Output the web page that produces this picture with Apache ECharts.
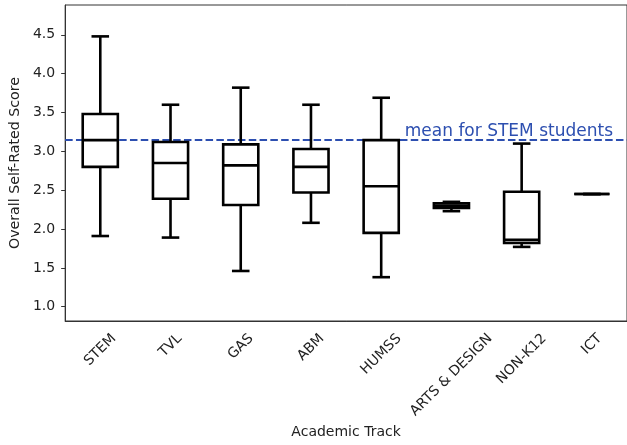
<!DOCTYPE html>
<html>
<head>
<meta charset="utf-8">
<script src="https://cdn.jsdelivr.net/npm/echarts@6/dist/echarts.min.js"></script>
<style>html,body{margin:0;padding:0;background:#fff}#main{width:627px;height:445px}</style>
</head>
<body>
<div id="main"></div>
<script>
var tracks = ['STEM', 'TVL', 'GAS', 'ABM', 'HUMSS', 'ARTS & DESIGN', 'NON-K12', 'ICT'];
var lowWhisker = [1.91, 1.89, 1.46, 2.08, 1.38, 2.23, 1.77, 2.45];
var q1 = [2.80, 2.39, 2.31, 2.47, 1.95, 2.27, 1.82, 2.45];
var median = [3.145, 2.85, 2.82, 2.80, 2.55, 2.30, 1.86, 2.45];
var q3 = [3.48, 3.12, 3.09, 3.03, 3.145, 2.33, 2.48, 2.45];
var highWhisker = [4.48, 3.60, 3.82, 3.60, 3.69, 2.35, 3.10, 2.45];
var stemMean = 3.145;
var yTicks = [1.0, 1.5, 2.0, 2.5, 3.0, 3.5, 4.0, 4.5];

var FONT = 'DejaVu Sans';
var FS = 14;

// rotated labels centred under the tick, like matplotlib
var ctx = document.createElement('canvas').getContext('2d');
ctx.font = FS + 'px "' + FONT + '"';
var rich = {};
tracks.forEach(function (t, i) {
    var w = ctx.measureText(t).width;
    var s = (6 + (w + 15) / 2.83) / 1.414;
    rich['t' + i] = {
        fontSize: FS, fontFamily: FONT, color: '#222',
        lineHeight: 2 * s, padding: [0, 2 * s, 0, 0]
    };
});

var boxData = tracks.map(function (t, i) {
    return [i, lowWhisker[i], q1[i], median[i], q3[i], highWhisker[i]];
});

function renderBox(params, api) {
    var i = api.value(0);
    var band = api.size([1, 0])[0];
    var hw = band * 0.25, cw = band * 0.125;
    var x = api.coord([i, 0])[0];
    var yLow = api.coord([i, api.value(1)])[1];
    var yQ1 = api.coord([i, api.value(2)])[1];
    var yMed = api.coord([i, api.value(3)])[1];
    var yQ3 = api.coord([i, api.value(4)])[1];
    var yHigh = api.coord([i, api.value(5)])[1];
    var st = {stroke: '#000', lineWidth: 2.6, fill: null};
    function line(x1, y1, x2, y2) {
        return {type: 'line', shape: {x1: x1, y1: y1, x2: x2, y2: y2}, style: st};
    }
    return {
        type: 'group',
        children: [
            line(x, yLow, x, yQ1),
            line(x, yQ3, x, yHigh),
            line(x - cw, yLow, x + cw, yLow),
            line(x - cw, yHigh, x + cw, yHigh),
            {type: 'rect', shape: {x: x - hw, y: yQ3, width: 2 * hw, height: yQ1 - yQ3}, style: st},
            line(x - hw, yMed, x + hw, yMed)
        ]
    };
}

var myChart = echarts.init(document.getElementById('main'));
var option = {
    animation: false,
    grid: {
        left: 62, top: 5, width: 568, height: 316,
        show: true, borderColor: '#333', borderWidth: 1
    },
    xAxis: {
        type: 'category',
        data: tracks,
        name: 'Academic Track',
        nameLocation: 'middle',
        nameGap: 103,
        nameTextStyle: {fontSize: 14, fontFamily: FONT, color: '#222'},
        axisLine: {lineStyle: {color: '#333', width: 1}},
        axisTick: {alignWithLabel: true, length: 4, lineStyle: {color: '#333'}},
        axisLabel: {
            interval: 0,
            rotate: 45,
            margin: 4,
            align: 'center',
            verticalAlign: 'top',
            fontSize: FS,
            fontFamily: FONT,
            color: '#222',
            rich: rich,
            formatter: function (value, index) {
                return '{t' + index + '|' + value + '}';
            }
        },
        splitLine: {show: false}
    },
    yAxis: {
        type: 'value',
        min: 0.816,
        max: 4.884,
        name: 'Overall Self-Rated Score',
        nameLocation: 'middle',
        nameGap: 41,
        nameTextStyle: {fontSize: 14.2, fontFamily: FONT, color: '#222'},
        axisLine: {show: true, lineStyle: {color: '#333', width: 1}},
        axisTick: {show: true, length: 4, customValues: yTicks, lineStyle: {color: '#333'}},
        axisLabel: {
            margin: 10,
            fontSize: FS,
            fontFamily: FONT,
            color: '#222',
            customValues: yTicks,
            formatter: function (v) { return v.toFixed(1); }
        },
        splitLine: {show: false}
    },
    series: [
        {
            type: 'line',
            z: 1,
            data: [],
            markLine: {
                silent: true,
                symbol: 'none',
                lineStyle: {color: '#2d4fb0', width: 2, type: [7.5, 3.3]},
                label: {
                    position: 'insideEndTop',
                    formatter: 'mean for STEM students',
                    fontSize: 17,
                    fontFamily: FONT,
                    color: '#2d4fb0',
                    distance: [14, 0]
                },
                data: [{yAxis: stemMean}]
            }
        },
        {
            type: 'custom',
            z: 5,
            renderItem: renderBox,
            data: boxData,
            encode: {x: 0, y: [1, 2, 3, 4, 5]}
        }
    ]
};
myChart.setOption(option);
</script>
</body>
</html>
